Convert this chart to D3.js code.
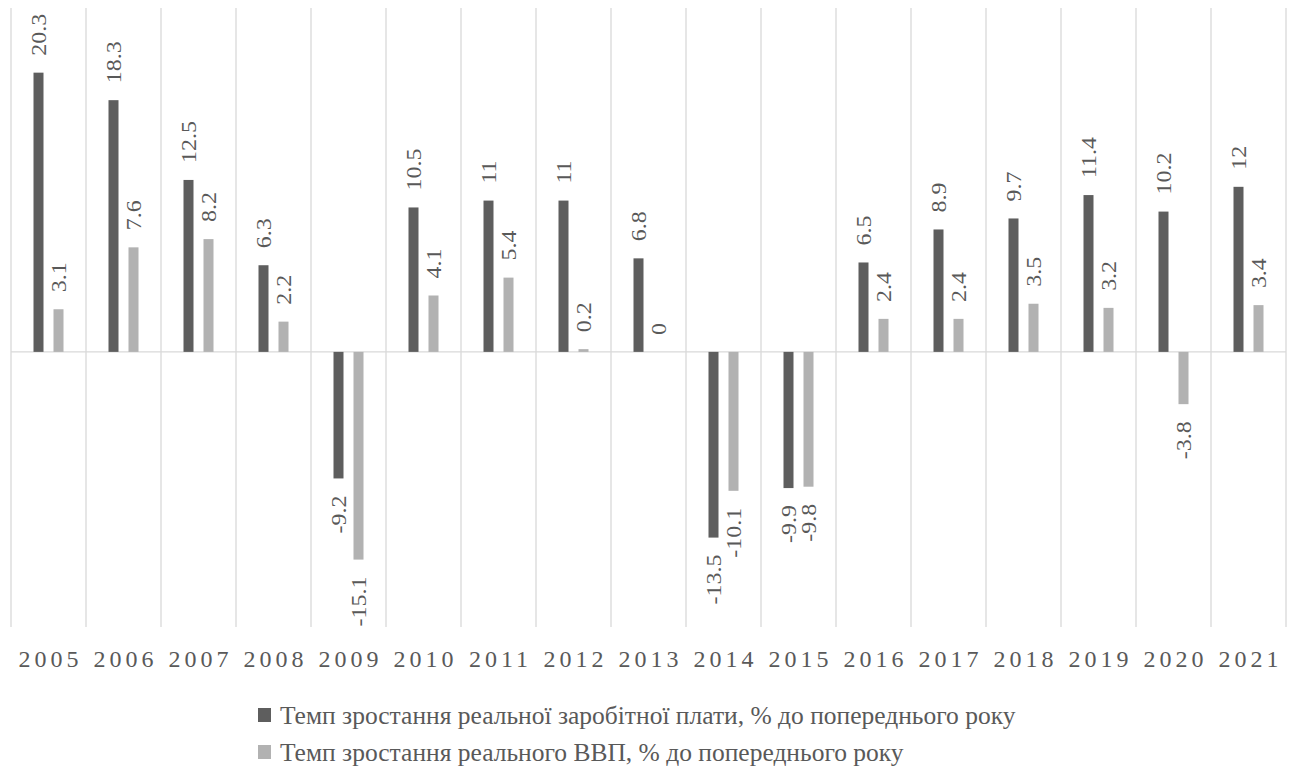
<!DOCTYPE html>
<html>
<head>
<meta charset="utf-8">
<script src="https://cdn.jsdelivr.net/npm/d3@7"></script>
</head>
<body style="margin:0">
<svg id="chart" width="1291" height="776" font-family="Liberation Serif" style="font-family: 'Liberation Serif'"></svg>
<script>
// Years on the category axis
const years = ["2005","2006","2007","2008","2009","2010","2011","2012","2013",
               "2014","2015","2016","2017","2018","2019","2020","2021"];
// Real wage growth, % to previous year
const wageGrowth = [20.3, 18.3, 12.5, 6.3, -9.2, 10.5, 11, 11, 6.8,
                    -13.5, -9.9, 6.5, 8.9, 9.7, 11.4, 10.2, 12];
// Real GDP growth, % to previous year
const gdpGrowth = [3.1, 7.6, 8.2, 2.2, -15.1, 4.1, 5.4, 0.2, 0,
                   -10.1, -9.8, 2.4, 2.4, 3.5, 3.2, -3.8, 3.4];
const seriesNames = [
  "Темп зростання реальної заробітної плати, % до попереднього року",
  "Темп зростання реального ВВП, % до попереднього року"
];
const valueDomain = [-20, 25];

const FONT = "Liberation Serif";
const TEXT_COLOR = "#595959";
const colors = ["#5e5e5e", "#b2b2b2"];
const gridColor = "#d9d9d9";

const svg = d3.select("#chart");
const plot = { left: 11, right: 1286, top: 8, bottom: 627 };

const x = d3.scaleBand().domain(years).range([plot.left, plot.right]).padding(0);
const groupWidth = 30;
const xInner = d3.scaleBand().domain([0, 1]).range([0, groupWidth]).paddingInner(0.5);
const groupOffset = (x.bandwidth() - groupWidth) / 2;
const y = d3.scaleLinear().domain(valueDomain).range([plot.bottom, plot.top]);

// Vertical gridlines at category boundaries
const bounds = years.map(d => x(d)).concat([plot.right]);
svg.append("g").selectAll("line").data(bounds).join("line")
  .attr("x1", d => d).attr("x2", d => d)
  .attr("y1", plot.top).attr("y2", plot.bottom)
  .attr("stroke", gridColor).attr("stroke-width", 1.3);

// Zero line
svg.append("line")
  .attr("x1", plot.left).attr("x2", plot.right)
  .attr("y1", y(0)).attr("y2", y(0))
  .attr("stroke", gridColor).attr("stroke-width", 1.3);

const series = [wageGrowth, gdpGrowth];
const labelGap = 17;

series.forEach((vals, si) => {
  const g = svg.append("g");
  const rows = vals.map((v, i) => ({ year: years[i], v }));
  g.selectAll("rect").data(rows).join("rect")
    .attr("x", d => x(d.year) + groupOffset + xInner(si))
    .attr("width", xInner.bandwidth())
    .attr("y", d => y(Math.max(0, d.v)))
    .attr("height", d => Math.abs(y(d.v) - y(0)))
    .attr("fill", colors[si]);

  // Value labels, rotated to read bottom-to-top
  g.selectAll("text").data(rows).join("text")
    .attr("transform", d => {
      const cx = x(d.year) + groupOffset + xInner(si) + xInner.bandwidth() / 2;
      const cy = d.v >= 0 ? y(d.v) - labelGap : y(d.v) + labelGap;
      return `translate(${cx},${cy}) rotate(-90) scale(1,0.88)`;
    })
    .attr("text-anchor", d => d.v >= 0 ? "start" : "end")
    .attr("dy", "0.35em")
    .attr("font-family", FONT)
    .style("font-family", `"${FONT}"`)
    .style("font-size", "24px")
    .style("fill", TEXT_COLOR)
    .text(d => String(d.v));
});

// Category axis labels
const xAxis = d3.axisBottom(x).tickSize(0).tickPadding(0);
const axisG = svg.append("g").attr("transform", "translate(0, 667)").call(xAxis);
axisG.attr("font-family", FONT);
axisG.select(".domain").remove();
axisG.selectAll("text")
  .attr("dy", 0)
  .attr("dx", 2)
  .attr("font-family", FONT)
  .style("font-family", `"${FONT}"`)
  .style("font-size", "24px")
  .style("letter-spacing", "4px")
  .style("fill", TEXT_COLOR);

// Legend
const legend = svg.append("g");
const legendBaselines = [724, 761];
seriesNames.forEach((name, i) => {
  legend.append("rect")
    .attr("x", 258).attr("y", legendBaselines[i] - 16)
    .attr("width", 13).attr("height", 14)
    .attr("fill", colors[i]);
  legend.append("text")
    .attr("x", 280).attr("y", legendBaselines[i])
    .attr("font-family", FONT)
    .style("font-family", `"${FONT}"`)
    .style("font-size", "25.5px")
    .style("fill", TEXT_COLOR)
    .text(name);
});
</script>
</body>
</html>
